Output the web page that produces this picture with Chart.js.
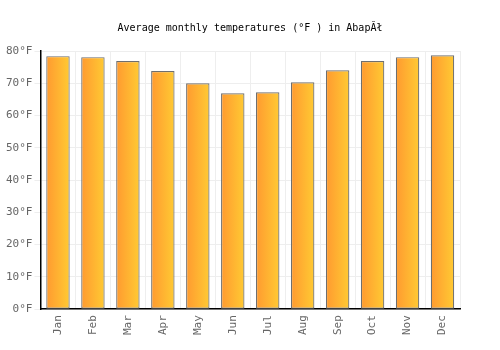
<!DOCTYPE html>
<html><head><meta charset="utf-8">
<script src="https://cdn.jsdelivr.net/npm/chart.js@4"></script>
<style>html,body{margin:0;padding:0;background:#fff}#w{width:500px;height:350px}</style>
</head><body><div id="w"><canvas id="c"></canvas></div>
<script>
const months = ["Jan","Feb","Mar","Apr","May","Jun","Jul","Aug","Sep","Oct","Nov","Dec"];
const tempsF = [78.4, 78.1, 76.9, 73.8, 70.0, 66.9, 67.2, 70.3, 74.0, 76.9, 78.1, 78.7];
const yTicks = [0, 10, 20, 30, 40, 50, 60, 70, 80];
const titleText = "Average monthly temperatures (°F ) in AbapĂł";
const BAR_PCT = 0.67;

function grad(ctx) {
  const chart = ctx.chart;
  const xs = chart.scales && chart.scales.x;
  if (!xs || ctx.dataIndex === undefined) return '#ffae33';
  const cx = xs.getPixelForValue(ctx.dataIndex);
  const w = (xs.width / months.length) * BAR_PCT;
  if (!isFinite(cx) || !isFinite(w) || w <= 0) return '#ffae33';
  const g = chart.ctx.createLinearGradient(cx - w/2, 0, cx + w/2, 0);
  g.addColorStop(0, '#ff9a30');
  g.addColorStop(1, '#ffca33');
  return g;
}

new Chart(document.getElementById('c'), {
  type: 'bar',
  data: { labels: months, datasets: [{ data: tempsF, backgroundColor: grad, borderColor: '#6e6e6e', borderWidth: 1.2, borderSkipped: false, barPercentage: BAR_PCT, categoryPercentage: 1 }] },
  options: {
    responsive: true, maintainAspectRatio: false, animation: false,
    layout: { padding: { left: 4, right: 4, top: 2, bottom: 9 } },
    plugins: {
      legend: { display: false }, tooltip: { enabled: false },
      title: { display: true, text: titleText, color: '#000', font: { family: 'DejaVu Sans Mono', size: 10, weight: 'normal' }, padding: { top: 20, bottom: 17 } }
    },
    scales: {
      x: { grid: { color: '#eeeeee', offset: true, drawTicks: false }, border: { color: '#000', width: 1.5 },
           ticks: { color: '#666', font: { family: 'DejaVu Sans Mono', size: 11 }, maxRotation: 90, minRotation: 90, padding: 6 } },
      y: { min: 0, max: 80, afterBuildTicks: s => { s.ticks = yTicks.map(v => ({ value: v })); },
           grid: { color: '#eeeeee', drawTicks: true, tickLength: 6, tickColor: '#eeeeee' }, border: { color: '#000', width: 1.5 },
           ticks: { color: '#666', font: { family: 'DejaVu Sans Mono', size: 11 }, padding: 2, callback: v => v + '°F' } },
      yr: { position: 'right', display: true, grid: { display: false, drawOnChartArea: false }, border: { display: false },
            ticks: { display: false }, afterFit: s => { s.width = 36; } }
    }
  }
});
</script></body></html>
